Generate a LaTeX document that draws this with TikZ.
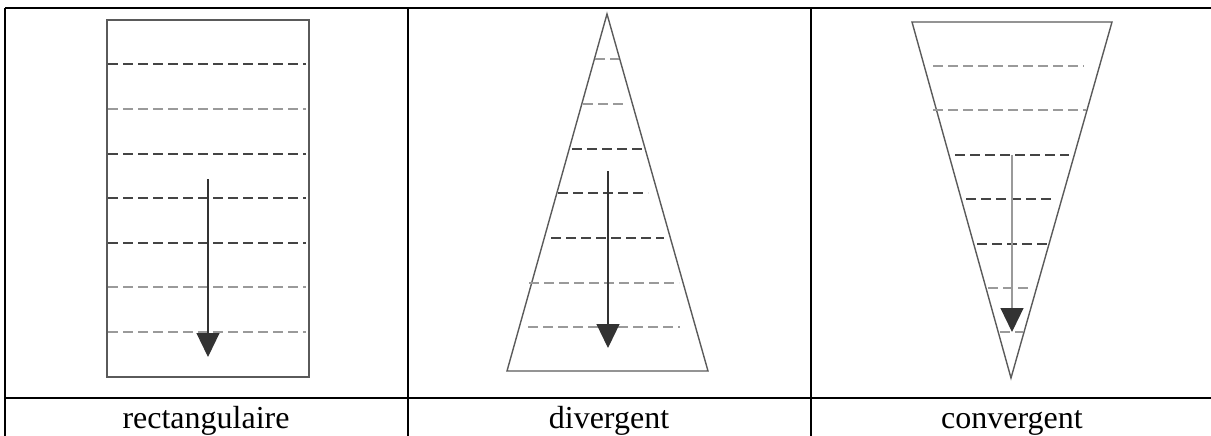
\documentclass[tikz,border=0pt]{standalone}
\usepackage{fontspec}
\setmainfont{Liberation Serif}
\usepackage{tikz}
\usetikzlibrary{arrows.meta}
\definecolor{outline}{HTML}{5A5A5A}
\definecolor{dashDark}{HTML}{444444}
\definecolor{dashLight}{HTML}{9A9A9A}
\definecolor{arrowInk}{HTML}{333333}
\tikzset{
  tableline/.style={line width=2.6pt, draw=black},
  shapeline/.style={line width=1.8pt, draw=outline},
  level/.style={line width=2pt, dash pattern=on 10pt off 5pt},
  flow/.style={
    -{Triangle[length=24pt,width=23pt,color=arrowInk]}, line width=1.2pt,
    draw=arrowInk,
  },
  caption/.style={font=\fontsize{32}{36}\selectfont, inner sep=0pt,
    anchor=base},
}

\begin{document}
\begin{tikzpicture}[x=1pt, y=-1pt]
\useasboundingbox (0,0) rectangle (1211,436);

% table grid
\draw[tableline] (5,8) -- (1211,8);
\draw[tableline] (5,398) -- (1211,398);
\draw[tableline] (5,8) -- (5,436);
\draw[tableline] (408,8) -- (408,436);
\draw[tableline] (811,8) -- (811,436);

% rectangulaire
\draw[shapeline] (107,20) rectangle (309,377);
\foreach \y/\c in {64/dashDark,109/dashLight,154/dashDark,198/dashDark,
                   243/dashDark,287/dashLight,332/dashLight}
  \draw[level, draw=\c] (108,\y) -- (306,\y);
\coordinate (rectTop) at (208,179);
\coordinate (rectEnd) at (208,357);
\draw[flow] (rectTop) -- (rectEnd);

% divergent
\draw[shapeline, line width=1.4pt] (607,14) -- (708,371) -- (507,371) -- cycle;
\foreach \y/\xa/\xb/\c in {59/595/619/dashLight,104/583/626/dashLight,
                           149/572/642/dashDark,193/558/648/dashDark,
                           238/551/664/dashDark,283/529/679/dashLight,
                           327/528/680/dashLight}
  \draw[level, draw=\c] (\xa,\y) -- (\xb,\y);
\coordinate (divTop) at (608,171);
\coordinate (divEnd) at (608,348);
\draw[flow] (divTop) -- (divEnd);

% convergent
\draw[shapeline, line width=1.4pt] (912,22) -- (1112,22) -- (1011,378) -- cycle;
\foreach \y/\xa/\xb/\c in {66/933/1084/dashLight,110/933/1086/dashLight,
                           155/955/1069/dashDark,199/966/1055/dashDark,
                           244/977/1048/dashDark,288/988/1032/dashLight,
                           332/1000/1023/dashLight}
  \draw[level, draw=\c] (\xa,\y) -- (\xb,\y);
\coordinate (convTop) at (1012,155);
\coordinate (convEnd) at (1012,332);
\draw[flow, draw=dashLight] (convTop) -- (convEnd);

% captions
\node[caption] (capRect) at (206,428) {rectangulaire};
\node[caption] (capDiv) at (609,428) {divergent};
\node[caption] (capConv) at (1012,428) {convergent};

\end{tikzpicture}
\end{document}
